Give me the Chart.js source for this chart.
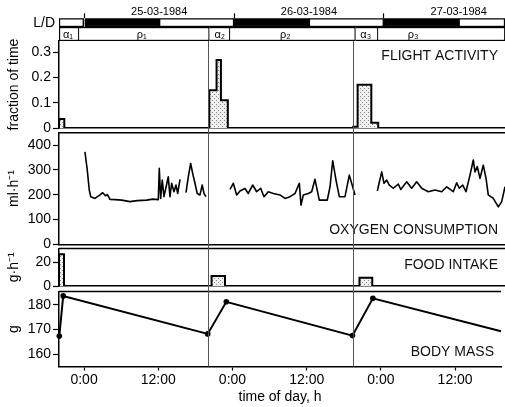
<!DOCTYPE html>
<html>
<head>
<meta charset="utf-8">
<title>Flight, O2, food and body mass</title>
<script src="https://cdn.jsdelivr.net/npm/chart.js@4.4.1/dist/chart.umd.min.js"></script>
<style>
  html, body { margin: 0; padding: 0; background: #fff; }
  #wrap { position: relative; width: 505px; height: 407px; overflow: hidden; }
  #wrap canvas { position: absolute; left: 0; top: 0; }
</style>
</head>
<body>
<div id="wrap">
  <canvas id="ld" width="505" height="407"></canvas>
  <canvas id="phase" width="505" height="407"></canvas>
  <canvas id="flight" width="505" height="407"></canvas>
  <canvas id="o2" width="505" height="407"></canvas>
  <canvas id="food" width="505" height="407"></canvas>
  <canvas id="mass" width="505" height="407"></canvas>
</div>
<script>
/* ---------- 1. data (x = hours after 0:00 on 25-03-1984) ---------- */
const X_MIN = -4.05, X_MAX = 67.42;
const timeTicks  = [0, 12, 24, 36, 48, 60];
const dayLabels  = ["25-03-1984", "26-03-1984", "27-03-1984"];

const ldStart = [-4.05, 0, 12, 24, 36, 48, 60];
const ldEnd   = [0, 12, 24, 36, 48, 60, 67.42];
const ldDark  = [false, true, false, true, false, true, false];

const phaseNames   = ["α₁", "ρ₁", "α₂", "ρ₂", "α₃", "ρ₃"];
const phaseStart   = [-4.05, -0.85, 20.03, 23.35, 43.45, 47.07];
const phaseEnd     = [-0.85, 20.03, 23.35, 43.45, 47.07, 67.42];
const phaseLabelAt = [-2.6, 9.2, 21.7, 32.2, 45.1, 52.7];

const eventHours = [20.03, 43.45];

const flightFrom = [-4.05, 20.03, 21.2, 21.9, 43.1, 43.8, 46.0];
const flightTo   = [-3.2, 21.2, 21.9, 23.0, 43.8, 46.0, 47.1];
const flightFrac = [0.036, 0.15, 0.27, 0.11, 0.005, 0.172, 0.021];

const o2Hours = [
  0.11, 0.48, 0.8, 1.03, 1.71, 2.3, 2.52, 2.95, 3.4, 3.7, 4.12, 5, 6, 7.3, 8.5, 10, 11, 11.86,
  12.02, 12.24, 12.5, 12.77, 13.1, 13.46, 13.73, 14.0, 14.38, 14.7, 14.97, 15.34, 15.8,
  16.3, 16.67, 17.05, 17.37, 17.74, 18.1, 18.54, 18.9, 19.18, 19.5, 20.0,
  23.35, 23.88, 24.42, 24.95, 25.75, 26.28, 26.99, 27.63, 28.27, 28.8, 29.49, 30.29, 31.36,
  32.16, 32.96, 33.77, 34.46, 34.73, 35.1, 35.9, 36.44, 36.97, 37.66, 38.94, 39.38, 39.81,
  40.34, 40.87, 41.78, 42.47, 43.01, 43.38, 45.0,
  46.96, 47.66, 48.03, 48.46, 48.88, 49.52, 50.32, 50.71, 51.67, 52.47, 53.27, 54.07, 55.13,
  56.2, 57.28, 58.08, 59.13, 59.68, 60.1, 60.64, 61.17, 61.81, 62.34, 62.61, 62.98, 63.41,
  63.94, 64.38, 64.74, 65.54, 66.35, 66.89, 67.42
];
const o2Rate = [
  373, 299, 219, 192, 185, 195, 199, 208, 196, 200, 181, 180, 178, 172, 176, 178, 182, 180,
  306, 185, 259, 192, 230, 272, 192, 246, 212, 239, 205, 262, null,
  208, 272, 326, 286, 246, 205, 199, 239, 205, 192, null,
  221, 246, 199, 215, 225, 205, 239, 212, 226, 192, 212, 205, 199,
  185, 192, 205, 246, 158, 199, 205, 212, 262, 178, 178, 232, 337,
  259, 192, 192, 279, 232, 199, null,
  215, 292, 246, 259, 239, 226, 243, 221, 252, 226, 252, 226, 212,
  219, 212, 232, 212, 248, 226, 239, 212, 279, 340, 292, 313, 266,
  319, 266, 199, 185, 151, 172, 232
];

const foodFrom = [-4.05, 20.4, 44.1];
const foodTo   = [-3.25, 22.55, 46.15];
const foodRate = [27, 8.5, 7];

const massHours = [-4.0, -3.37, 20.0, 23.0, 43.4, 46.7, 67.42];
const massGrams = [167.3, 183.7, 168.2, 181.3, 167.5, 182.7, 169.3];

/* ---------- 2. layout (px) -------------------------------- */
const H = 407, AXIS_W = 59;
const PANEL = {
  ld: [18.3, 27], phase: [27, 41], flight: [41, 128],
  o2: [132.7, 244.3], food: [248.5, 286], mass: [291.5, 366.5]
};
const FONT = '"Liberation Sans", Arial, Helvetica, sans-serif';

Chart.defaults.animation = false;
Chart.defaults.responsive = false;
Chart.defaults.font.family = FONT;
Chart.defaults.color = "#000";
Chart.defaults.plugins.legend.display = false;
Chart.defaults.plugins.tooltip.enabled = false;

/* ---------- 3. helpers ------------------------------------ */
// histogram bins -> one closed outline per run of touching bins
function outline(from, to, val) {
  const pts = [];
  from.forEach((f, i) => {
    if (i === 0 || f !== to[i - 1]) {
      if (i) pts.push({x: to[i - 1], y: 0}, {x: to[i - 1], y: null});
      pts.push({x: f, y: 0});
    }
    pts.push({x: f, y: val[i]}, {x: to[i], y: val[i]});
  });
  pts.push({x: to[to.length - 1], y: 0});
  return pts;
}
function stipple(id) {
  const c = document.createElement("canvas"); c.width = c.height = 4;
  const g = c.getContext("2d");
  g.fillStyle = "#f0f0f0"; g.fillRect(0, 0, 4, 4);
  g.fillStyle = "#8a8a8a"; g.fillRect(0, 0, 1, 1); g.fillRect(2, 2, 1, 1);
  return document.getElementById(id).getContext("2d").createPattern(c, "repeat");
}
const pad = k => ({left: 0, right: 0, top: PANEL[k][0], bottom: H - PANEL[k][1]});

function yAxis(min, max, ticks, title, fmt) {
  return {
    min, max,
    afterFit: s => { s.width = AXIS_W; },
    afterBuildTicks: s => { s.ticks = ticks.map(v => ({value: v})); },
    ticks: {font: {size: 14}, padding: 2, callback: fmt || (v => String(v))},
    grid: {display: true, drawOnChartArea: false, tickLength: 6, tickColor: "#000", tickWidth: 1.2},
    border: {display: true, color: "#000", width: 1.5},
    title: {display: true, text: title, font: {size: 14}, padding: {top: 6, bottom: 0}}
  };
}
function xPlain() {
  return {
    type: "linear", min: X_MIN, max: X_MAX,
    afterFit: s => { s.height = 0; },
    ticks: {display: false},
    grid: {display: false, drawTicks: false},
    border: {display: true, color: "#000", width: 1.5}
  };
}

/* ---------- 4. plugins ------------------------------------ */
const topRule = {
  id: "topRule",
  afterDraw(chart) {
    const {ctx, chartArea: a} = chart;
    ctx.save(); ctx.strokeStyle = "#000"; ctx.lineWidth = 1.5;
    ctx.beginPath(); ctx.moveTo(a.left, a.top); ctx.lineTo(a.right, a.top); ctx.stroke();
    ctx.restore();
  }
};
const panelTag = {
  id: "panelTag",
  afterDraw(chart, args, opts) {
    if (!opts.text) return;
    const {ctx, chartArea: a} = chart;
    ctx.save();
    ctx.font = "14px " + FONT; ctx.fillStyle = "#111";
    ctx.textAlign = "right"; ctx.textBaseline = "middle";
    const y = opts.fromTop != null ? a.top + opts.fromTop : a.bottom - opts.fromBottom;
    ctx.fillText(opts.text, a.right - 7, y);
    ctx.restore();
  }
};
const phaseText = {
  id: "phaseText",
  afterDatasetsDraw(chart) {
    const {ctx, chartArea: {top, bottom}, scales: {x}} = chart;
    ctx.save();
    ctx.font = "11px " + FONT; ctx.fillStyle = "#000";
    ctx.textAlign = "center"; ctx.textBaseline = "middle";
    phaseNames.forEach((n, i) => ctx.fillText(n, x.getPixelForValue(phaseLabelAt[i]), (top + bottom) / 2 + 0.5));
    ctx.restore();
  }
};
const eventLines = {
  id: "eventLines",
  afterDraw(chart) {
    const {ctx, chartArea: a, scales: {x}} = chart;
    ctx.save(); ctx.strokeStyle = "#555"; ctx.lineWidth = 1;
    eventHours.forEach(h => {
      const px = Math.round(x.getPixelForValue(h)) + 0.5;
      ctx.beginPath(); ctx.moveTo(px, PANEL.flight[0]); ctx.lineTo(px, a.bottom); ctx.stroke();
    });
    ctx.restore();
  }
};

/* ---------- 5. L/D strip with dates ----------------------- */
new Chart(document.getElementById("ld"), {
  type: "bar",
  data: {
    labels: ["L/D"],
    datasets: ldStart.map((s, i) => ({
      data: [[s, ldEnd[i]]],
      backgroundColor: ldDark[i] ? "#000" : "#fff",
      borderColor: "#000", borderWidth: 1.5, borderSkipped: false,
      grouped: false, barPercentage: 1, categoryPercentage: 1
    }))
  },
  options: {
    indexAxis: "y",
    layout: {padding: {left: 0, right: 0, top: 0, bottom: H - PANEL.ld[1]}},
    scales: {
      x: {
        type: "linear", position: "top", min: X_MIN, max: X_MAX,
        afterFit: s => { s.height = PANEL.ld[0]; },   // axis box = strip above the bar
        afterBuildTicks: s => { s.ticks = timeTicks.map(v => ({value: v})); },
        ticks: {
          font: {size: 11}, padding: -5, autoSkip: false, maxRotation: 0,
          callback: v => v % 24 === 12 ? dayLabels[(v - 12) / 24] : ""
        },
        grid: {
          display: true, drawOnChartArea: false, tickLength: 5, tickWidth: 1.2,
          tickColor: c => c.tick && c.tick.value % 24 === 0 ? "#000" : "rgba(0,0,0,0)"
        },
        border: {display: false}
      },
      y: {
        afterFit: s => { s.width = AXIS_W; },
        ticks: {font: {size: 14}, padding: 4},
        grid: {display: false, drawTicks: false},
        border: {display: false}
      }
    }
  }
});

/* ---------- 6. phase row ---------------------------------- */
new Chart(document.getElementById("phase"), {
  type: "bar",
  data: {
    labels: [""],
    datasets: phaseStart.map((s, i) => ({
      data: [[s, phaseEnd[i]]],
      backgroundColor: "#fff", borderColor: "#000", borderSkipped: false,
      borderWidth: {top: 1.5, bottom: 1.5, right: 1.2, left: i ? 0 : 1.5},
      grouped: false, barPercentage: 1, categoryPercentage: 1
    }))
  },
  options: {
    indexAxis: "y",
    layout: {padding: {...pad("phase"), left: AXIS_W}},
    scales: {
      x: {type: "linear", display: false, min: X_MIN, max: X_MAX},
      y: {display: false}
    }
  },
  plugins: [phaseText]
});

/* ---------- 7. flight activity ---------------------------- */
new Chart(document.getElementById("flight"), {
  type: "line",
  data: {datasets: [{
    data: outline(flightFrom, flightTo, flightFrac),
    borderColor: "#000", borderWidth: 2, borderJoinStyle: "miter",
    backgroundColor: stipple("flight"), fill: "origin",
    pointRadius: 0, tension: 0, spanGaps: false
  }]},
  options: {
    layout: {padding: pad("flight")},
    scales: {
      x: xPlain(),
      y: yAxis(0, 0.345, [0, 0.1, 0.2, 0.3], "fraction of time", v => v === 0 ? "0" : v.toFixed(1))
    },
    plugins: {panelTag: {text: "FLIGHT ACTIVITY", fromTop: 15}}
  },
  plugins: [panelTag]
});

/* ---------- 8. oxygen consumption ------------------------- */
new Chart(document.getElementById("o2"), {
  type: "line",
  data: {datasets: [{
    data: o2Hours.map((h, i) => ({x: h, y: o2Rate[i]})),
    borderColor: "#000", borderWidth: 1.6, borderJoinStyle: "round",
    pointRadius: 0, tension: 0, spanGaps: false
  }]},
  options: {
    layout: {padding: pad("o2")},
    scales: {
      x: xPlain(),
      y: yAxis(0, 450, [0, 100, 200, 300, 400], "ml·h⁻¹")
    },
    plugins: {panelTag: {text: "OXYGEN CONSUMPTION", fromBottom: 14}}
  },
  plugins: [panelTag, topRule]
});

/* ---------- 9. food intake -------------------------------- */
new Chart(document.getElementById("food"), {
  type: "line",
  data: {datasets: [{
    data: outline(foodFrom, foodTo, foodRate),
    borderColor: "#000", borderWidth: 2, borderJoinStyle: "miter",
    backgroundColor: stipple("food"), fill: "origin",
    pointRadius: 0, tension: 0, spanGaps: false
  }]},
  options: {
    layout: {padding: pad("food")},
    scales: {
      x: xPlain(),
      y: yAxis(0, 32, [0, 10, 20], "g·h⁻¹", v => v === 10 ? "" : String(v))
    },
    plugins: {panelTag: {text: "FOOD INTAKE", fromTop: 16.5}}
  },
  plugins: [panelTag, topRule]
});

/* ---------- 10. body mass + time axis --------------------- */
new Chart(document.getElementById("mass"), {
  type: "line",
  data: {datasets: [{
    data: massHours.map((h, i) => ({x: h, y: massGrams[i]})),
    borderColor: "#000", borderWidth: 2, tension: 0, clip: false,
    pointRadius: massHours.map((_, i) => i === massHours.length - 1 ? 0 : 2.8),
    pointBackgroundColor: "#000", pointBorderWidth: 0
  }]},
  options: {
    layout: {padding: {left: 0, right: 0, top: PANEL.mass[0], bottom: 0}},
    scales: {
      x: {
        type: "linear", min: X_MIN, max: X_MAX,
        afterFit: s => { s.height = H - PANEL.mass[1]; },
        afterBuildTicks: s => { s.ticks = timeTicks.map(v => ({value: v})); },
        ticks: {font: {size: 14}, padding: 1, autoSkip: false, maxRotation: 0,
                callback: v => v % 24 === 0 ? "0:00" : "12:00"},
        grid: {display: true, drawOnChartArea: false, tickLength: 4, tickColor: "#000", tickWidth: 1.2},
        border: {display: true, color: "#000", width: 1.5},
        title: {display: true, text: "time of day, h", font: {size: 14}, padding: {top: 0, bottom: 1}}
      },
      y: yAxis(154.9, 185.5, [160, 170, 180], "g")
    },
    plugins: {panelTag: {text: "BODY MASS", fromBottom: 14.5}}
  },
  plugins: [panelTag, topRule, eventLines]
});
</script>
</body>
</html>
